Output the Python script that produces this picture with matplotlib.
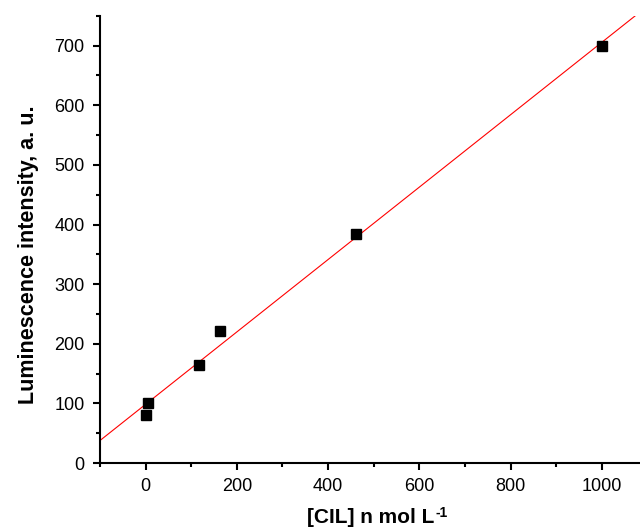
import numpy as np
import matplotlib
matplotlib.use('Agg')
from matplotlib import pyplot as plt
from matplotlib.ticker import MultipleLocator

plt.rcParams['font.family'] = ['Liberation Sans', 'DejaVu Sans']

# concentration (n mol/L) and luminescence intensity
conc = [0, 5, 117, 164, 460, 1000]
intensity = [81, 101, 164, 221, 384, 700]

fig = plt.figure(figsize=(6.4, 5.28), dpi=100)
ax = fig.add_axes([0.156, 0.123, 0.844, 0.847])

# linear fit
slope, icept = np.polyfit(conc, intensity, 1)
xfit = np.array([-100, 1100])
ax.plot(xfit, slope * xfit + icept, color='red', lw=0.8, zorder=2)
ax.plot(conc, intensity, 's', color='black', ms=6.5, zorder=3)

ax.set_xlim(-100, 1083)
ax.set_ylim(0, 750)
ax.xaxis.set_major_locator(MultipleLocator(200))
ax.xaxis.set_minor_locator(MultipleLocator(100))
ax.yaxis.set_major_locator(MultipleLocator(100))
ax.yaxis.set_minor_locator(MultipleLocator(50))

for s in ['top', 'right']:
    ax.spines[s].set_visible(False)
for s in ['left', 'bottom']:
    ax.spines[s].set_linewidth(1.5)

ax.tick_params(which='major', direction='out', length=5, width=1.5,
               labelsize=13, pad=6)
ax.tick_params(which='minor', direction='out', length=3, width=1.5)

ax.set_xlabel('[CIL] n mol L', fontsize=15, fontweight='bold')
ax.xaxis.set_label_coords(0.502, -0.101)
ax.annotate('-1', xy=(1, 1), xycoords=ax.xaxis.label, xytext=(0.5, 1.5),
            textcoords='offset points', ha='left', va='top',
            fontsize=10, fontweight='bold')

ax.set_ylabel('Luminescence intensity, a. u.', fontsize=15.5,
              fontweight='bold')
ax.yaxis.set_label_coords(-0.113, 0.466)

fig.savefig('out.png', dpi=100)
